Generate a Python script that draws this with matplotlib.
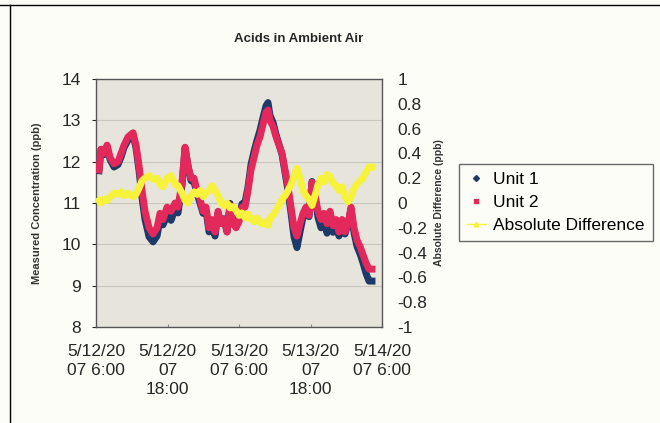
import matplotlib.pyplot as plt
from matplotlib.lines import Line2D

plt.rcParams['font.family'] = ['Liberation Sans', 'DejaVu Sans']

# hours since 5/12/2007 6:00
hours = [0.50, 0.84, 1.34, 1.85, 2.35, 3.02, 3.69, 4.20, 4.70, 5.37, 6.21, 6.71,
         7.22, 7.72, 8.22, 8.90, 9.57, 10.24, 10.74, 11.24, 11.92, 12.59, 13.26,
         13.76, 14.43, 14.94, 15.44, 15.94, 16.45, 16.95, 17.45, 17.96, 18.46,
         18.97, 19.47, 19.97, 20.48, 20.98, 21.48, 21.99, 22.49, 22.99, 23.50,
         24.00, 24.50, 25.01, 25.51, 26.01, 26.52, 27.02, 27.52, 28.03, 28.53,
         28.87, 29.20, 29.71, 30.21, 30.71, 31.22, 31.72, 32.22, 32.73, 33.23,
         33.73, 34.24, 34.74, 35.24, 35.75, 36.25, 36.76, 37.26, 37.76, 38.27,
         38.77, 39.27, 39.78, 40.28, 40.78, 41.29, 41.79, 42.29, 42.80, 43.30,
         43.80, 44.31, 44.81, 45.31, 45.82, 46.32]

unit2 = [11.8, 12.3, 12.2, 12.4, 12.1, 11.95, 12.0, 12.2, 12.4, 12.6, 12.7, 12.4,
         11.9, 11.3, 10.8, 10.4, 10.25, 10.4, 10.75, 10.6, 10.9, 10.8, 11.0,
         10.9, 11.5, 12.35, 11.9, 11.6, 11.6, 11.3, 11.1, 10.8, 10.9,
         10.4, 10.6, 10.3, 10.8, 10.5, 10.6, 10.3, 10.95, 10.5, 10.4,
         10.55, 10.9, 10.9, 11.3, 11.8, 12.1, 12.4, 12.6, 12.9, 13.2,
         13.25, 13.0, 12.85, 12.6, 12.4, 12.2, 11.8, 11.4, 10.9, 10.4,
         10.2, 10.5, 10.75, 10.9, 10.7, 11.5, 11.2, 10.8, 10.6, 10.75,
         10.5, 10.8, 10.45, 10.6, 10.3, 10.6, 10.3, 10.5, 10.9, 10.4,
         10.1, 9.95, 9.75, 9.55, 9.4, 9.4]

unit1 = [11.78, 12.3, 12.17, 12.38, 12.05, 11.87, 11.93, 12.11, 12.34, 12.52, 12.65, 12.33,
         11.78, 11.12, 10.6, 10.18, 10.06, 10.2, 10.6, 10.47, 10.7, 10.58, 10.85,
         10.76, 11.42, 12.33, 11.9, 11.54, 11.51, 11.23, 11.0, 10.75, 10.82,
         10.3, 10.46, 10.2, 10.74, 10.5, 10.62, 10.3, 10.99, 10.53, 10.46,
         10.65, 10.98, 11.02, 11.39, 11.93, 12.25, 12.52, 12.76, 13.07, 13.35,
         13.43, 13.12, 12.95, 12.66, 12.42, 12.17, 11.74, 11.3, 10.75, 10.18,
         9.92, 10.3, 10.65, 10.84, 10.67, 11.52, 11.14, 10.65, 10.4, 10.58,
         10.27, 10.59, 10.29, 10.46, 10.2, 10.47, 10.25, 10.49, 10.85, 10.28,
         9.95, 9.77, 9.55, 9.3, 9.11, 9.11]

abs_diff = [0.02, 0.0, 0.03, 0.02, 0.05, 0.08, 0.07, 0.09, 0.06, 0.08, 0.05, 0.07,
            0.12, 0.18, 0.2, 0.22, 0.19, 0.2, 0.15, 0.13, 0.2, 0.22, 0.15,
            0.14, 0.08, 0.02, 0.0, 0.06, 0.09, 0.07, 0.1, 0.05, 0.08,
            0.1, 0.14, 0.1, 0.06, 0.0, -0.02, 0.0, -0.04, -0.03, -0.06,
            -0.1, -0.08, -0.12, -0.09, -0.13, -0.15, -0.12, -0.16, -0.17, -0.15,
            -0.18, -0.12, -0.1, -0.06, -0.02, 0.03, 0.06, 0.1, 0.15, 0.22,
            0.28, 0.2, 0.1, 0.06, 0.03, -0.02, 0.06, 0.15, 0.2, 0.17,
            0.23, 0.21, 0.16, 0.14, 0.1, 0.13, 0.05, 0.01, 0.05, 0.12,
            0.15, 0.18, 0.2, 0.25, 0.29, 0.29]

tick_hours = [0, 12, 24, 36, 48]
tick_labels = ['5/12/20\n07 6:00', '5/12/20\n07\n18:00', '5/13/20\n07 6:00',
               '5/13/20\n07\n18:00', '5/14/20\n07 6:00']
diff_ticks = [-1, -0.8, -0.6, -0.4, -0.2, 0, 0.2, 0.4, 0.6, 0.8, 1]
diff_labels = ['-1', '-0.8', '-0.6', '-0.4', '-0.2', '0', '0.2', '0.4', '0.6', '0.8', '1']

c_unit1 = '#1d3a68'
c_unit2 = '#e3285c'
c_diff = '#f7f23c'
txt = '#262626'

fig = plt.figure(figsize=(6.6, 4.23), dpi=100)
fig.patch.set_facecolor('#fdfdf8')
ax = fig.add_axes([0.1455, 0.2270, 0.4333, 0.5862])
ax.set_facecolor('#e7e5db')

ax.plot(hours, unit1, color=c_unit1, lw=5, zorder=3)
ax.plot(hours, unit2, color=c_unit2, lw=5, zorder=4)
ax.set_ylim(8, 14)
ax.set_xlim(0, 48)
ax.set_yticks(range(8, 15))
ax.grid(axis='y', color='#c9c8bf', lw=0.8)
ax.set_axisbelow(True)
ax.set_xticks(tick_hours)
ax.set_xticklabels(tick_labels, fontsize=12.5, color=txt, linespacing=1.35)
ax.tick_params(axis='x', length=2, direction='in', pad=12, color='#888888')
ax.tick_params(axis='y', length=3, labelsize=12.5, colors=txt, pad=8)
ax.set_ylabel('Measured Concentration (ppb)', fontsize=8, fontweight='bold',
              color='#333333', labelpad=14)
for s in ax.spines.values():
    s.set_color('#555555')
    s.set_linewidth(1.0)

ax2 = ax.twinx()
ax2.plot(hours, abs_diff, color=c_diff, lw=5, zorder=5)
ax2.set_ylim(-1, 1)
ax2.set_yticks(diff_ticks)
ax2.set_yticklabels(diff_labels)
ax2.tick_params(axis='y', length=0, labelsize=12.5, colors=txt, pad=11)
ax2.set_ylabel('Absolute Difference (ppb)', fontsize=7.5, fontweight='bold',
               color='#333333', labelpad=5)
for s in ax2.spines.values():
    s.set_visible(False)

fig.text(0.452, 0.907, 'Acids in Ambient Air', ha='center', va='center',
         fontsize=9.5, fontweight='bold', color=txt)

handles = [Line2D([], [], color=c_unit1, marker='D', ls='none', ms=3),
           Line2D([], [], color=c_unit2, marker='s', ls='none', ms=3.5),
           Line2D([], [], color=c_diff, marker='^', ls='-', lw=1, ms=3.5)]
leg = fig.legend(handles, ['Unit 1', 'Unit 2', 'Absolute Difference'],
                 loc='upper left', bbox_to_anchor=(0.695, 0.612), fontsize=12.5,
                 frameon=True, fancybox=False, handlelength=1.1,
                 handletextpad=0.45, borderpad=0.45, labelspacing=0.45,
                 borderaxespad=0)
leg.get_frame().set_edgecolor('#444444')
leg.get_frame().set_facecolor('#fdfdf8')
leg.get_frame().set_linewidth(1.0)

# scanned page frame
fig.add_artist(Line2D([0.0, 1.0], [0.988, 0.988], color='black', lw=1.0))
fig.add_artist(Line2D([0.015, 0.015], [0.0, 0.988], color='black', lw=1.0))

fig.savefig('out.png', dpi=100)
